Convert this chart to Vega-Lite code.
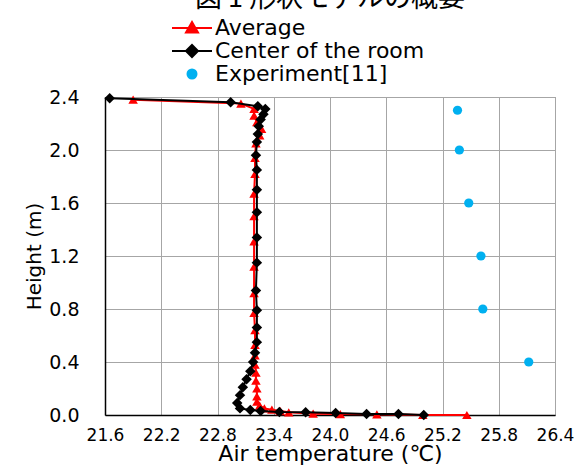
{
  "$schema": "https://vega.github.io/schema/vega-lite/v6.json",
  "width": 450,
  "height": 318,
  "autosize": {"type": "none"},
  "padding": {"left": 105, "top": 97, "right": 29, "bottom": 51},
  "background": "white",
  "title": {
    "text": "図 1 形状モデルの概要",
    "font": "Noto Sans CJK JP",
    "fontSize": 27,
    "fontWeight": "normal",
    "color": "#000000",
    "anchor": "middle",
    "frame": "group",
    "baseline": "bottom",
    "offset": -23
  },
  "data": {
    "values": [
      {"series": "Average", "i": 1, "T": 21.90, "h": 2.38},
      {"series": "Average", "i": 2, "T": 23.05, "h": 2.35},
      {"series": "Average", "i": 3, "T": 23.19, "h": 2.31},
      {"series": "Average", "i": 4, "T": 23.19, "h": 2.26},
      {"series": "Average", "i": 5, "T": 23.22, "h": 2.21},
      {"series": "Average", "i": 6, "T": 23.27, "h": 2.16},
      {"series": "Average", "i": 7, "T": 23.25, "h": 2.11},
      {"series": "Average", "i": 8, "T": 23.21, "h": 2.05},
      {"series": "Average", "i": 9, "T": 23.20, "h": 1.94},
      {"series": "Average", "i": 10, "T": 23.20, "h": 1.82},
      {"series": "Average", "i": 11, "T": 23.19, "h": 1.67},
      {"series": "Average", "i": 12, "T": 23.19, "h": 1.50},
      {"series": "Average", "i": 13, "T": 23.19, "h": 1.31},
      {"series": "Average", "i": 14, "T": 23.19, "h": 1.12},
      {"series": "Average", "i": 15, "T": 23.19, "h": 0.92},
      {"series": "Average", "i": 16, "T": 23.19, "h": 0.77},
      {"series": "Average", "i": 17, "T": 23.20, "h": 0.64},
      {"series": "Average", "i": 18, "T": 23.20, "h": 0.53},
      {"series": "Average", "i": 19, "T": 23.20, "h": 0.45},
      {"series": "Average", "i": 20, "T": 23.20, "h": 0.38},
      {"series": "Average", "i": 21, "T": 23.21, "h": 0.32},
      {"series": "Average", "i": 22, "T": 23.21, "h": 0.26},
      {"series": "Average", "i": 23, "T": 23.22, "h": 0.20},
      {"series": "Average", "i": 24, "T": 23.22, "h": 0.14},
      {"series": "Average", "i": 25, "T": 23.22, "h": 0.10},
      {"series": "Average", "i": 26, "T": 23.25, "h": 0.07},
      {"series": "Average", "i": 27, "T": 23.30, "h": 0.05},
      {"series": "Average", "i": 28, "T": 23.38, "h": 0.04},
      {"series": "Average", "i": 29, "T": 23.47, "h": 0.03},
      {"series": "Average", "i": 30, "T": 23.56, "h": 0.02},
      {"series": "Average", "i": 31, "T": 23.82, "h": 0.01},
      {"series": "Average", "i": 32, "T": 24.11, "h": 0.007},
      {"series": "Average", "i": 33, "T": 24.50, "h": 0.005},
      {"series": "Average", "i": 34, "T": 24.99, "h": 0.0},
      {"series": "Average", "i": 35, "T": 25.46, "h": 0.0},
      {"series": "Center of the room", "i": 1, "T": 21.65, "h": 2.39},
      {"series": "Center of the room", "i": 2, "T": 22.94, "h": 2.36},
      {"series": "Center of the room", "i": 3, "T": 23.23, "h": 2.33},
      {"series": "Center of the room", "i": 4, "T": 23.31, "h": 2.31},
      {"series": "Center of the room", "i": 5, "T": 23.29, "h": 2.27},
      {"series": "Center of the room", "i": 6, "T": 23.26, "h": 2.23},
      {"series": "Center of the room", "i": 7, "T": 23.24, "h": 2.18},
      {"series": "Center of the room", "i": 8, "T": 23.23, "h": 2.12},
      {"series": "Center of the room", "i": 9, "T": 23.22, "h": 2.06},
      {"series": "Center of the room", "i": 10, "T": 23.21, "h": 1.96},
      {"series": "Center of the room", "i": 11, "T": 23.22, "h": 1.85},
      {"series": "Center of the room", "i": 12, "T": 23.22, "h": 1.70},
      {"series": "Center of the room", "i": 13, "T": 23.22, "h": 1.53},
      {"series": "Center of the room", "i": 14, "T": 23.22, "h": 1.34},
      {"series": "Center of the room", "i": 15, "T": 23.22, "h": 1.15},
      {"series": "Center of the room", "i": 16, "T": 23.21, "h": 0.94},
      {"series": "Center of the room", "i": 17, "T": 23.22, "h": 0.79},
      {"series": "Center of the room", "i": 18, "T": 23.22, "h": 0.66},
      {"series": "Center of the room", "i": 19, "T": 23.22, "h": 0.55},
      {"series": "Center of the room", "i": 20, "T": 23.20, "h": 0.47},
      {"series": "Center of the room", "i": 21, "T": 23.18, "h": 0.40},
      {"series": "Center of the room", "i": 22, "T": 23.15, "h": 0.33},
      {"series": "Center of the room", "i": 23, "T": 23.11, "h": 0.27},
      {"series": "Center of the room", "i": 24, "T": 23.07, "h": 0.21},
      {"series": "Center of the room", "i": 25, "T": 23.04, "h": 0.15},
      {"series": "Center of the room", "i": 26, "T": 23.01, "h": 0.09},
      {"series": "Center of the room", "i": 27, "T": 23.04, "h": 0.05},
      {"series": "Center of the room", "i": 28, "T": 23.15, "h": 0.038},
      {"series": "Center of the room", "i": 29, "T": 23.26, "h": 0.03},
      {"series": "Center of the room", "i": 30, "T": 23.46, "h": 0.023},
      {"series": "Center of the room", "i": 31, "T": 23.74, "h": 0.02},
      {"series": "Center of the room", "i": 32, "T": 24.06, "h": 0.015},
      {"series": "Center of the room", "i": 33, "T": 24.39, "h": 0.008},
      {"series": "Center of the room", "i": 34, "T": 24.73, "h": 0.008},
      {"series": "Center of the room", "i": 35, "T": 25.00, "h": 0.0},
      {"series": "Experiment[11]", "i": 1, "T": 25.36, "h": 2.30},
      {"series": "Experiment[11]", "i": 2, "T": 25.38, "h": 2.00},
      {"series": "Experiment[11]", "i": 3, "T": 25.48, "h": 1.60},
      {"series": "Experiment[11]", "i": 4, "T": 25.61, "h": 1.20},
      {"series": "Experiment[11]", "i": 5, "T": 25.63, "h": 0.80},
      {"series": "Experiment[11]", "i": 6, "T": 26.12, "h": 0.40}
    ]
  },
  "encoding": {
    "x": {
      "field": "T",
      "type": "quantitative",
      "scale": {"domain": [21.6, 26.4], "nice": false, "zero": false},
      "axis": {
        "title": "Air temperature (℃)",
        "values": [21.6, 22.2, 22.8, 23.4, 24.0, 24.6, 25.2, 25.8, 26.4],
        "format": ".1f",
        "labelOverlap": false,
        "labelBound": false,
        "labelFlush": false,
        "labelPadding": 12,
        "titlePadding": 0,
        "labelFontSize": 17,
        "titleFontSize": 22
      }
    },
    "y": {
      "field": "h",
      "type": "quantitative",
      "scale": {"domain": [0, 2.4], "nice": false},
      "axis": {
        "title": "Height (m)",
        "values": [0, 0.4, 0.8, 1.2, 1.6, 2.0, 2.4],
        "format": ".1f",
        "labelOverlap": false,
        "labelFlush": false,
        "labelPadding": 26,
        "titlePadding": 4,
        "labelFontSize": 19,
        "titleFontSize": 20
      }
    }
  },
  "layer": [
    {
      "transform": [{"filter": "datum.series === 'Experiment[11]'"}],
      "mark": {"type": "point", "opacity": 0},
      "encoding": {
        "fill": {
          "field": "series", "type": "nominal",
          "scale": {"domain": ["Average", "Center of the room", "Experiment[11]"], "range": ["#ff0000", "#000000", "#00b0f0"]},
          "legend": {
            "title": null, "orient": "none", "legendX": 76, "legendY": -80, "padding": 0,
            "symbolSize": 400, "symbolOpacity": 1, "symbolStrokeWidth": 2,
            "labelOffset": 12, "labelFontSize": 22, "labelLimit": 500, "labelFont": "DejaVu Sans", "labelColor": "#000000",
            "rowPadding": 1
          }
        },
        "stroke": {
          "field": "series", "type": "nominal",
          "scale": {"domain": ["Average", "Center of the room", "Experiment[11]"], "range": ["#ff0000", "#000000", "#00b0f0"]},
          "legend": {
            "title": null, "orient": "none", "legendX": 76, "legendY": -80, "padding": 0,
            "symbolSize": 400, "symbolOpacity": 1, "symbolStrokeWidth": 2,
            "labelOffset": 12, "labelFontSize": 22, "labelLimit": 500, "labelFont": "DejaVu Sans", "labelColor": "#000000",
            "rowPadding": 1
          }
        },
        "shape": {
          "field": "series", "type": "nominal",
          "scale": {"domain": ["Average", "Center of the room", "Experiment[11]"], "range": ["M-2,0H2M-0.6,0.45L0,-0.6L0.6,0.45Z", "M-2,0H2M-0.6,0L0,-0.6L0.6,0L0,0.6Z", "M-0.45,0A0.45,0.45,0,1,1,0.45,0A0.45,0.45,0,1,1,-0.45,0Z"]},
          "legend": {
            "title": null, "orient": "none", "legendX": 76, "legendY": -80, "padding": 0,
            "symbolSize": 400, "symbolOpacity": 1, "symbolStrokeWidth": 2,
            "labelOffset": 12, "labelFontSize": 22, "labelLimit": 500, "labelFont": "DejaVu Sans", "labelColor": "#000000",
            "rowPadding": 1
          }
        }
      }
    },
    {
      "transform": [{"filter": "datum.series === 'Average'"}],
      "mark": {"type": "line", "color": "#ff0000", "strokeWidth": 2},
      "encoding": {"order": {"field": "i", "type": "quantitative"}}
    },
    {
      "transform": [{"filter": "datum.series === 'Average'"}],
      "mark": {"type": "point", "shape": "triangle-up", "filled": true, "color": "#ff0000", "opacity": 1, "size": 90}
    },
    {
      "transform": [{"filter": "datum.series === 'Center of the room'"}],
      "mark": {"type": "line", "color": "#000000", "strokeWidth": 2},
      "encoding": {"order": {"field": "i", "type": "quantitative"}}
    },
    {
      "transform": [{"filter": "datum.series === 'Center of the room'"}],
      "mark": {"type": "point", "shape": "diamond", "filled": true, "color": "#000000", "opacity": 1, "size": 110}
    },
    {
      "transform": [{"filter": "datum.series === 'Experiment[11]'"}],
      "mark": {"type": "point", "shape": "circle", "filled": true, "color": "#00b0f0", "opacity": 1, "size": 85}
    }
  ],
  "config": {
    "font": "DejaVu Sans",
    "view": {"stroke": "#7f7f7f", "strokeWidth": 1},
    "axis": {
      "grid": true,
      "gridColor": "#a6a6a6",
      "gridWidth": 1,
      "ticks": false,
      "domainColor": "#000000",
      "domainWidth": 1.5,
      "labelColor": "#000000",
      "titleColor": "#000000",
      "labelFont": "DejaVu Sans",
      "titleFont": "DejaVu Sans",
      "titleFontWeight": "normal"
    }
  }
}
